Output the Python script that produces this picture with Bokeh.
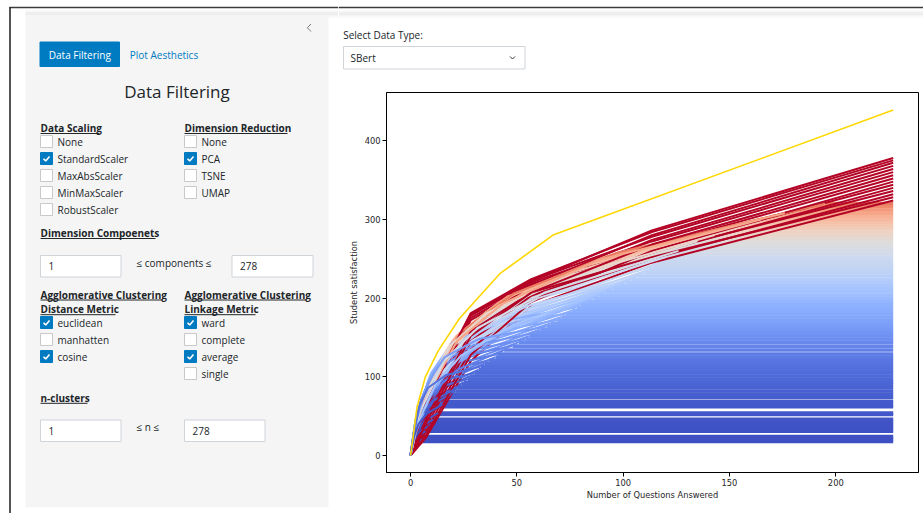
import numpy as np
from bokeh.plotting import figure
from bokeh.layouts import row, column
from bokeh.models import Range1d, FixedTicker
from bokeh.embed import file_html
from bokeh.resources import INLINE
from bokeh.core.properties import value

# ---------------- data ----------------
final_score = [18, 21, 24, 31, 34, 37, 40, 43, 46, 52, 54, 62, 65, 69, 74, 78, 82, 86, 90,
               93, 97, 101, 105, 109, 113, 117, 121, 125, 129, 134, 139, 144, 148, 152, 156, 160, 164, 168, 172, 176, 180, 184, 188,
               192, 196, 200, 204, 208, 212, 216, 220, 224, 228, 232, 236, 240, 244, 248,
               252, 256, 260, 264, 268, 272, 276, 280, 284, 288, 292, 296, 300, 304, 308, 312, 316, 320,
               324, 328, 332, 336, 340, 344, 348, 352, 356, 360, 364, 368, 372, 375, 378]
last_question = [5, 6, 6, 7, 8, 8, 9, 10, 11, 12, 13, 14, 15, 16, 18, 19, 21, 22, 24,
                 25, 27, 28, 30, 32, 33, 35, 37, 40, 41, 44, 48, 51, 54, 56, 59, 61, 64, 66, 69, 71, 73, 76, 78,
                 80, 83, 86, 89, 92, 95, 98, 101, 104, 107, 110, 112, 114, 116, 118,
                 120, 123, 126, 129, 132, 135, 139, 143, 147, 151, 155, 160, 165, 170, 176, 182, 188, 195,
                 227, 227, 227, 227, 227, 227, 227, 227, 227, 227, 227, 227, 227, 227, 227]
# score after 1/32, 1/8, 1/4 and 1/2 of each student's answered questions
score_at_1_32 = [2, 3, 3, 4, 4, 5, 5, 5, 6, 6, 7, 8, 8, 9, 9, 10, 10, 11, 11,
                 14, 15, 15, 16, 16, 19, 18, 21, 19, 24, 20, 28, 22, 32, 23, 35, 24, 38, 25, 42, 26, 44, 28, 47,
                 42, 35, 44, 37, 46, 38, 48, 40, 49, 41, 51, 42, 53, 44, 55,
                 50, 56, 52, 58, 54, 60, 56, 62, 58, 64, 60, 66, 62, 68, 64, 70, 66, 72,
                 22, 45, 30, 55, 35, 60, 25, 62, 40, 66, 48, 68, 52, 70, 58]
score_at_1_8 = [7, 8, 10, 12, 14, 15, 16, 17, 18, 21, 22, 25, 26, 27, 30, 31, 33, 34, 36,
                39, 54, 42, 59, 46, 63, 49, 68, 53, 72, 56, 78, 60, 83, 64, 87, 67, 92, 71, 96, 74, 101, 77, 105,
                92, 84, 96, 88, 100, 91, 104, 95, 108, 98, 111, 101, 115, 105, 119,
                115, 124, 120, 129, 125, 134, 130, 138, 134, 143, 138, 147, 142, 151, 146, 155, 150, 158,
                120, 158, 135, 166, 145, 172, 128, 175, 152, 178, 160, 180, 165, 181, 178]
score_at_1_4 = [11, 13, 15, 19, 21, 23, 25, 27, 29, 32, 33, 38, 40, 42, 46, 48, 51, 53, 56,
                58, 74, 63, 80, 68, 86, 73, 92, 78, 98, 82, 106, 89, 112, 94, 119, 99, 125, 104, 131, 109, 137, 114, 143,
                127, 118, 132, 122, 137, 127, 143, 132, 148, 137, 153, 142, 158, 146, 164,
                156, 164, 162, 170, 168, 176, 174, 181, 179, 187, 184, 192, 190, 197, 194, 202, 199, 206,
                190, 207, 198, 212, 203, 216, 195, 218, 207, 220, 211, 222, 216, 224, 222]
score_at_1_2 = [15, 17, 20, 25, 28, 30, 33, 35, 38, 43, 44, 51, 53, 56, 62, 64, 67, 70, 74,
                76, 87, 83, 95, 89, 102, 96, 109, 103, 116, 109, 126, 118, 133, 125, 140, 131, 148, 138, 155, 144, 162, 151, 169,
                157, 153, 164, 159, 171, 165, 177, 172, 184, 178, 190, 184, 197, 190, 203,
                200, 205, 207, 212, 214, 218, 221, 225, 228, 232, 234, 238, 241, 245, 248, 252, 254, 258,
                245, 252, 250, 258, 256, 262, 260, 266, 268, 272, 274, 278, 280, 284, 286]
max_questions = 227
best_path_q = [0, 1, 3, 7, 13, 23, 42, 67, 227]
best_path_score = [0, 19, 61, 100, 133, 174, 231, 280, 439]
x_ticks = [0, 50, 100, 150, 200]
y_ticks = [0, 100, 200, 300, 400]

scaling_options = ["None", "StandardScaler", "MaxAbsScaler", "MinMaxScaler", "RobustScaler"]
scaling_checked = [False, True, False, False, False]
reduction_options = ["None", "PCA", "TSNE", "UMAP"]
reduction_checked = [False, True, False, False]
distance_options = ["euclidean", "manhatten", "cosine"]
distance_checked = [True, False, True]
linkage_options = ["ward", "complete", "average", "single"]
linkage_checked = [True, False, True, False]
components_range = ["1", "278"]
clusters_range = ["1", "278"]
data_type = "SBert"

# ---------------- coolwarm colormap ----------------
_cw = [(59, 76, 192), (77, 104, 215), (98, 130, 234), (119, 154, 247), (141, 176, 254),
       (163, 194, 255), (184, 208, 249), (204, 217, 238), (221, 221, 221), (236, 211, 197),
       (245, 196, 173), (247, 177, 148), (244, 154, 123), (236, 127, 99), (222, 96, 77),
       (203, 62, 56), (180, 4, 38)]
_cw_t = np.linspace(0, 1, len(_cw))
COLOR_GAMMA = 1.3


def coolwarm(t):
    r = np.interp(t, _cw_t, [c[0] for c in _cw])
    g = np.interp(t, _cw_t, [c[1] for c in _cw])
    b = np.interp(t, _cw_t, [c[2] for c in _cw])
    return "#%02x%02x%02x" % (int(round(r)), int(round(g)), int(round(b)))


def student_colour(s):
    return coolwarm((s / max_questions) ** COLOR_GAMMA)


FONT_UI = "Open Sans"
TXT = "#212529"
BLUE = "#007bc2"
W, H = 923, 513
SPLIT_X = 338
TOP_H = 88


def no_align(f):
    if "frame_align" in f.properties():
        f.frame_align = False


def canvas(w, h, x0, y0):
    f = figure(width=w, height=h, x_range=Range1d(x0, x0 + w), y_range=Range1d(y0 + h, y0),
               output_backend="svg", toolbar_location=None, tools="",
               x_axis_location=None, y_axis_location=None, min_border=0)
    f.outline_line_color = None
    f.background_fill_color = "white"
    f.border_fill_color = "white"
    f.grid.visible = False
    no_align(f)
    return f


def txt(f, x, y, s, size="10px", color=TXT, bold=False, align="left"):
    f.text(x=[x], y=[y], text=[s], text_font=value(FONT_UI), text_font_size=size,
           text_color=color, text_align=align, text_baseline="middle",
           text_font_style="bold" if bold else "normal")


def heading(f, x, y, s, width):
    txt(f, x, y, s, bold=True)
    f.segment(x0=[x], y0=[y + 5.5], x1=[x + width], y1=[y + 5.5], line_color=TXT, line_width=1)


def checkbox(f, x, y, label, checked):
    if checked:
        f.quad(left=[x], right=[x + 12], top=[y - 6], bottom=[y + 6], fill_color=BLUE, line_color=BLUE, line_width=1)
        f.line(x=[x + 3, x + 5.2, x + 9], y=[y + 0.2, y + 2.4, y - 2], line_color="white", line_width=1.6)
    else:
        f.quad(left=[x], right=[x + 12], top=[y - 6], bottom=[y + 6], fill_color="white", line_color="#c9c9c9", line_width=1)
    txt(f, x + 17, y, label)


def input_box(f, x0, x1, y0, y1, s):
    f.quad(left=[x0], right=[x1], top=[y0], bottom=[y1], fill_color="white", line_color="#cfd4d9", line_width=1)
    txt(f, x0 + 8, (y0 + y1) / 2, s)


def shadow(f, x0, x1):
    for yy, c in [(10.5, "#f7f7f7"), (11.5, "#f0f0f0"), (12.5, "#e9e9e9"), (13.5, "#e6e6e6"),
                  (14.5, "#ebebeb"), (15.5, "#f2f2f2"), (16.5, "#f8f8f8")]:
        f.segment(x0=[x0], y0=[yy], x1=[x1], y1=[yy], line_color=c, line_width=1)


# ---------------- sidebar ----------------
ui = canvas(SPLIT_X, H, 0, 0)
shadow(ui, 25, SPLIT_X)
ui.quad(left=[25], right=[328], top=[15], bottom=[506.7], fill_color="#f5f5f5", line_color=None)
ui.segment(x0=[9], y0=[7], x1=[SPLIT_X], y1=[7], line_color="#3c3c3c", line_width=1.4)
ui.segment(x0=[9.5], y0=[6.5], x1=[9.5], y1=[H], line_color="#2a2a2a", line_width=1.6)
ui.line(x=[310.5, 306.8, 310.5], y=[23.5, 27.2, 31], line_color="#777777", line_width=1)

ui.quad(left=[39.5], right=[119], top=[41.5], bottom=[66], fill_color=BLUE, line_color=BLUE)
txt(ui, 79.3, 54, "Data Filtering", color="white", align="center")
txt(ui, 129.3, 54, "Plot Aesthetics", color=BLUE)
txt(ui, 176.5, 91, "Data Filtering", size="17px", align="center")

heading(ui, 40, 127.5, "Data Scaling", 59)
heading(ui, 184, 127.5, "Dimension Reduction", 103)
for k, (lab, chk) in enumerate(zip(scaling_options, scaling_checked)):
    checkbox(ui, 40, 141 + 17 * k, lab, chk)
for k, (lab, chk) in enumerate(zip(reduction_options, reduction_checked)):
    checkbox(ui, 184, 141 + 17 * k, lab, chk)

heading(ui, 40, 232.5, "Dimension Compoenets", 115)
input_box(ui, 40, 120.5, 255, 276.5, components_range[0])
txt(ui, 136, 262.5, "\u2264 components \u2264")
input_box(ui, 231.5, 312.5, 255, 276.5, components_range[1])

heading(ui, 40, 294, "Agglomerative Clustering", 122)
heading(ui, 40, 308.7, "Distance Metric", 75)
heading(ui, 184, 294, "Agglomerative Clustering", 122)
heading(ui, 184, 308.7, "Linkage Metric", 71)
for k, (lab, chk) in enumerate(zip(distance_options, distance_checked)):
    checkbox(ui, 40, 322 + 17 * k, lab, chk)
for k, (lab, chk) in enumerate(zip(linkage_options, linkage_checked)):
    checkbox(ui, 184, 322 + 17 * k, lab, chk)

heading(ui, 40, 397.3, "n-clusters", 47)
input_box(ui, 40, 120.5, 419.5, 441, clusters_range[0])
txt(ui, 136, 426.5, "\u2264 n \u2264")
input_box(ui, 184, 264.5, 419.5, 441, clusters_range[1])

# ---------------- select box ----------------
RW = W - SPLIT_X
top = canvas(RW, TOP_H, SPLIT_X, 0)
shadow(top, SPLIT_X, W)
top.segment(x0=[SPLIT_X], y0=[7], x1=[W], y1=[7], line_color="#3c3c3c", line_width=1.4)
txt(top, 342.7, 34.5, "Select Data Type:")
top.quad(left=[343], right=[524.5], top=[46], bottom=[68.5], fill_color="white", line_color="#cfd4d9", line_width=1)
txt(top, 350, 57.5, data_type)
top.line(x=[509.5, 512, 514.5], y=[56, 58.5, 56], line_color="#333333", line_width=1)

# ---------------- chart ----------------
p = figure(width=RW, height=H - TOP_H, x_range=Range1d(-11.3, 238.9), y_range=Range1d(-21.6, 461.2),
           output_backend="svg", toolbar_location=None, tools="",
           min_border_left=48, min_border_right=5, min_border_top=4, min_border_bottom=41)
no_align(p)
p.grid.visible = False
p.outline_line_color = "black"
p.outline_line_width = 1
p.background_fill_color = "white"
p.border_fill_color = "white"

n = len(final_score)
flat_x, flat_y, flat_c = [], [], []
for i in sorted(range(n), key=lambda k: last_question[k]):
    s = last_question[i]
    L = final_score[i]
    if s < max_questions:
        flat_x.append([s, max_questions])
        flat_y.append([L, L])
        flat_c.append(student_colour(s))

# students are drawn in an interleaved order (not sorted), so colours mix in the fan
draw_order = sorted(range(n), key=lambda k: (k * 53) % n)
rise_x, rise_y, rise_c = [], [], []
for i in draw_order:
    s = last_question[i]
    rise_x.append([0, s / 32, s / 8, s / 4, s / 2, s])
    rise_y.append([0, score_at_1_32[i], score_at_1_8[i], score_at_1_4[i], score_at_1_2[i], final_score[i]])
    rise_c.append(student_colour(s))

p.multi_line(xs=flat_x, ys=flat_y, line_color=flat_c, line_width=3.6)
p.multi_line(xs=rise_x, ys=rise_y, line_color=rise_c, line_width=2.0, line_join="round")
p.line(best_path_q, best_path_score, line_color="#ffd700", line_width=1.6)

p.xaxis.ticker = FixedTicker(ticks=x_ticks)
p.yaxis.ticker = FixedTicker(ticks=y_ticks)
p.xaxis.axis_label = "Number of Questions Answered"
p.yaxis.axis_label = "Student satisfaction"
for ax in p.axis:
    ax.axis_label_text_font = "DejaVu Sans"
    ax.axis_label_text_font_size = "8.3px"
    ax.axis_label_text_font_style = "normal"
    ax.axis_label_text_color = "#262626"
    ax.major_label_text_font = "DejaVu Sans"
    ax.major_label_text_font_size = "8.3px"
    ax.major_label_text_color = "#262626"
    ax.major_tick_out = 4
    ax.major_tick_in = 0
    ax.minor_tick_out = 0
    ax.minor_tick_in = 0
    ax.axis_line_color = "black"
    ax.major_tick_line_color = "black"
    ax.major_label_standoff = 2
p.xaxis.axis_label_standoff = 1
p.yaxis.axis_label_standoff = 3

layout = row(ui, column(top, p))
open("out.html", "w").write(file_html(layout, INLINE))
